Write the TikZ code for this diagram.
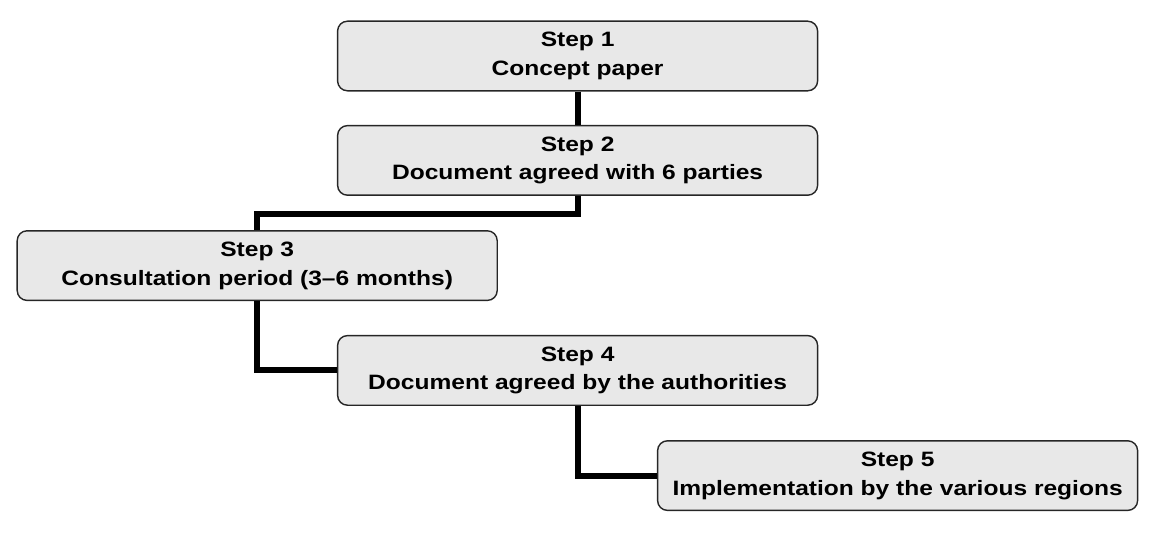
\documentclass[tikz,border=0pt]{standalone}
\usepackage{fontspec}
\setmainfont[FakeStretch=1.18]{Liberation Sans}
\definecolor{boxgray}{HTML}{E8E8E8}
\tikzset{
    stepbox/.style={draw=black!85, line width=1pt, fill=boxgray, rounded corners=7pt,
        minimum width=12cm, minimum height=1.74cm, align=center, inner sep=0pt,
        font=\fontsize{14.8}{20.4}\selectfont\bfseries},
    link/.style={line width=4.3pt, black}
}
\begin{document}
    \begin{tikzpicture}
        \useasboundingbox (0,0) rectangle (28.775,-13.425);
        % Steps.
        \node[stepbox] (s1) at (14.44,-1.4) {Step 1\\Concept paper};
        \node[stepbox] (s2) at (14.44,-4.01) {Step 2\\ Document agreed with 6 parties};
        \node[stepbox] (s3) at (6.43,-6.64) {Step 3\\Consultation period (3--6 months)};
        \node[stepbox] (s4) at (14.44,-9.26) {Step 4\\Document agreed by the authorities};
        \node[stepbox] (s5) at (22.44,-11.89) {Step 5\\ Implementation by the various regions};
        % Links.
        \draw[link] (s1.south) -- (s2.north);
        \draw[link] (s2.south) -- ++(0,-0.45) -| (s3.north);
        \draw[link] (s3.south) |- (s4.west);
        \draw[link] (s4.south) |- (s5.west);
    \end{tikzpicture}
\end{document}
